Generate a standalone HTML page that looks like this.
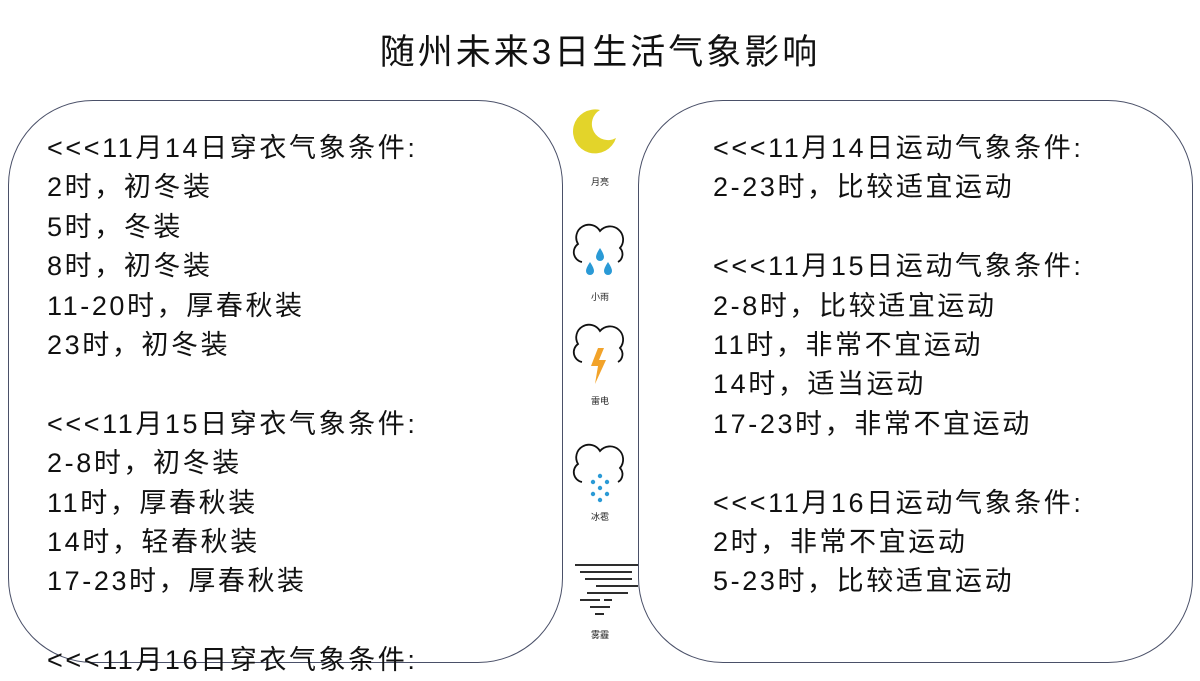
<!DOCTYPE html>
<html><head><meta charset="utf-8"><style>
body{margin:0;width:1200px;height:675px;background:#fff;position:relative;overflow:hidden;font-family:"Liberation Sans","Noto Sans CJK SC",sans-serif;color:#111}
.title{position:absolute;top:24px;left:0;width:1200px;text-align:center;font-size:35px;letter-spacing:3px}
.box{position:absolute;top:100px;width:555px;height:563px;border:1.5px solid #4a5068;border-radius:85px;box-sizing:border-box}
.txt{position:absolute;font-size:27px;line-height:39.4px;white-space:pre;letter-spacing:2.6px}
.lbl{position:absolute;font-size:9px;width:60px;text-align:center;color:#222}
</style></head><body>
<div class="title">随州未来3日生活气象影响</div>
<div class="box" style="left:8px"></div>
<div class="box" style="left:638px"></div>
<div class="txt" style="left:47px;top:129px">&lt;&lt;&lt;11月14日穿衣气象条件:
2时，初冬装
5时，冬装
8时，初冬装
11-20时，厚春秋装
23时，初冬装

&lt;&lt;&lt;11月15日穿衣气象条件:
2-8时，初冬装
11时，厚春秋装
14时，轻春秋装
17-23时，厚春秋装

&lt;&lt;&lt;11月16日穿衣气象条件:</div>
<div class="txt" style="left:713px;top:129px">&lt;&lt;&lt;11月14日运动气象条件:
2-23时，比较适宜运动

&lt;&lt;&lt;11月15日运动气象条件:
2-8时，比较适宜运动
11时，非常不宜运动
14时，适当运动
17-23时，非常不宜运动

&lt;&lt;&lt;11月16日运动气象条件:
2时，非常不宜运动
5-23时，比较适宜运动</div>
<svg style="position:absolute;left:560px;top:100px" width="90" height="560">
<path d="M40 10 A22 22 0 1 0 56 38 A15 15 0 0 1 40 10Z" fill="#e3d42a"/>
<g fill="none" stroke="#111" stroke-width="1.8">
<path d="M22 162 A10 10 0 0 1 18 144 A12 12 0 0 1 40 131 A13 13 0 0 1 60 148 A9 9 0 0 1 58 162"/>
<path d="M22 262 A10 10 0 0 1 18 244 A12 12 0 0 1 40 231 A13 13 0 0 1 60 248 A9 9 0 0 1 58 262"/>
<path d="M22 382 A10 10 0 0 1 18 364 A12 12 0 0 1 40 351 A13 13 0 0 1 60 368 A9 9 0 0 1 58 382"/>
</g>
<g fill="#2a9ad6"><path d="M40 148 Q44 154 44 157 A4 4 0 0 1 36 157 Q36 154 40 148Z"/><path d="M30 162 Q34 168 34 171 A4 4 0 0 1 26 171 Q26 168 30 162Z"/><path d="M48 162 Q52 168 52 171 A4 4 0 0 1 44 171 Q44 168 48 162Z"/>
<circle cx="40" cy="376" r="2.2"/><circle cx="33" cy="382" r="2.2"/><circle cx="47" cy="382" r="2.2"/><circle cx="40" cy="388" r="2.2"/><circle cx="33" cy="394" r="2.2"/><circle cx="47" cy="394" r="2.2"/><circle cx="40" cy="400" r="2.2"/></g>
<path d="M38 248 L31 266 L38 266 L35 284 L46 260 L39 260 L44 248Z" fill="#f2a32a"/>
<g stroke="#111" stroke-width="1.8"><line x1="15" y1="465" x2="78" y2="465"/><line x1="20" y1="472" x2="72" y2="472"/><line x1="25" y1="479" x2="72" y2="479"/><line x1="36" y1="486" x2="78" y2="486"/><line x1="27" y1="493" x2="68" y2="493"/><line x1="20" y1="500" x2="40" y2="500"/><line x1="44" y1="500" x2="52" y2="500"/><line x1="30" y1="507" x2="50" y2="507"/><line x1="35" y1="514" x2="44" y2="514"/></g>
</svg>
<div class="lbl" style="left:570px;top:175px">月亮</div>
<div class="lbl" style="left:570px;top:290px">小雨</div>
<div class="lbl" style="left:570px;top:394px">雷电</div>
<div class="lbl" style="left:570px;top:510px">冰雹</div>
<div class="lbl" style="left:570px;top:628px">雾霾</div>
</body></html>
